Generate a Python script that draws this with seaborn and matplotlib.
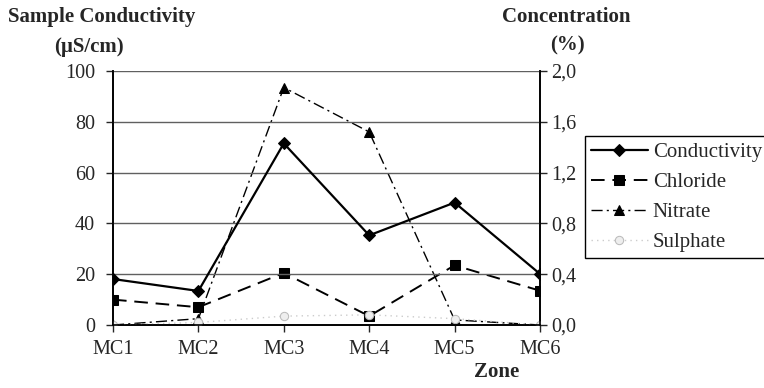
import matplotlib
matplotlib.use("Agg")
import matplotlib.pyplot as plt
import seaborn as sns
import pandas as pd
from matplotlib.ticker import FuncFormatter

zones = ["MC1", "MC2", "MC3", "MC4", "MC5", "MC6"]
conductivity = [18.1, 13.4, 71.5, 35.3, 48.2, 20.1]
chloride = [0.20, 0.14, 0.41, 0.07, 0.47, 0.27]
nitrate = [0.0, 0.05, 1.87, 1.52, 0.04, 0.0]
sulphate = [0.0, 0.02, 0.07, 0.08, 0.05, 0.0]

left_ticks = [0, 20, 40, 60, 80, 100]
right_ticks = [0.0, 0.4, 0.8, 1.2, 1.6, 2.0]

sns.set_style("white")
plt.rcParams["font.family"] = ["Liberation Serif", "DejaVu Serif"]
plt.rcParams["font.size"] = 14

df = pd.DataFrame({"Zone": zones, "Conductivity": conductivity, "Chloride": chloride,
                   "Nitrate": nitrate, "Sulphate": sulphate})

fig = plt.figure(figsize=(7.64, 3.88), dpi=100)
ax = fig.add_axes([113/764, 1-325/388, (540-113)/764, (325-71)/388])
ax2 = ax.twinx()

sns.lineplot(data=df, x="Zone", y="Conductivity", ax=ax, color="black", lw=1.6,
             marker="D", markersize=6.5, markeredgecolor="black", sort=False, legend=False, zorder=5)
sns.lineplot(data=df, x="Zone", y="Chloride", ax=ax2, color="black", lw=1.4,
             marker="s", markersize=7.5, markeredgecolor="black", sort=False, legend=False,
             dashes=False, zorder=4)
sns.lineplot(data=df, x="Zone", y="Nitrate", ax=ax2, color="black", lw=1.0,
             marker="^", markersize=7.5, markeredgecolor="black", sort=False, legend=False, zorder=3)
sns.lineplot(data=df, x="Zone", y="Sulphate", ax=ax2, color="#cccccc", lw=1.0,
             marker="o", markersize=6, markerfacecolor="#eeeeee", markeredgecolor="#bbbbbb",
             sort=False, legend=False, zorder=6)

l_cond = ax.lines[0]
l_chl, l_nit, l_sul = ax2.lines[0], ax2.lines[1], ax2.lines[2]
l_chl.set_dashes([7, 4])
l_nit.set_dashes([8, 3, 1.5, 3])
l_sul.set_dashes([1, 3])

ax.set_xlim(0, 5)
ax.set_ylim(0, 100)
ax2.set_ylim(0, 2.0)
ax.set_yticks(left_ticks)
ax2.set_yticks(right_ticks)
ax2.yaxis.set_major_formatter(FuncFormatter(lambda v, p: f"{v:.1f}".replace(".", ",")))

ax.set_xlabel("")
ax.set_ylabel("")
ax2.set_ylabel("")
ax2.set_xlabel("")

ax.grid(axis="y", color="#606060", lw=1.0)
ax.set_axisbelow(True)
for a in (ax, ax2):
    a.spines["top"].set_visible(False)
    for s in ("left", "right", "bottom"):
        a.spines[s].set_color("black")
        a.spines[s].set_linewidth(1.2)
ax.tick_params(axis="y", direction="out", length=5, width=1, pad=8, left=True, labelsize=14.5)
ax.tick_params(axis="x", direction="out", length=5, width=1, pad=6, bottom=True, labelsize=14.5)
ax2.tick_params(axis="y", direction="out", length=5, width=1, pad=3, right=True, labelsize=14.5)
ax.set_zorder(ax2.get_zorder() + 1)
ax.patch.set_visible(False)

fig.text(8/764, 1-17/388, "Sample Conductivity", fontsize=15, fontweight="bold", ha="left", va="center")
fig.text(89/764, 1-47/388, "(µS/cm)", fontsize=15, fontweight="bold", ha="center", va="center")
fig.text(566/764, 1-17/388, "Concentration", fontsize=15, fontweight="bold", ha="center", va="center")
fig.text(567/764, 1-45/388, "(%)", fontsize=15, fontweight="bold", ha="center", va="center")
fig.text(497/764, 1-372/388, "Zone", fontsize=15, fontweight="bold", ha="center", va="center")

leg = fig.legend([l_cond, l_chl, l_nit, l_sul],
                 ["Conductivity", "Chloride", "Nitrate", "Sulphate"],
                 loc="upper left", bbox_to_anchor=(585/764, 1-136/388),
                 frameon=True, fancybox=False, shadow=False, fontsize=15,
                 handlelength=2.7, handletextpad=0.25, labelspacing=0.5,
                 borderpad=0.3, borderaxespad=0)
leg.get_frame().set_edgecolor("black")
leg.get_frame().set_linewidth(1.0)
leg.get_frame().set_alpha(1)

fig.savefig("out.png", dpi=100)
